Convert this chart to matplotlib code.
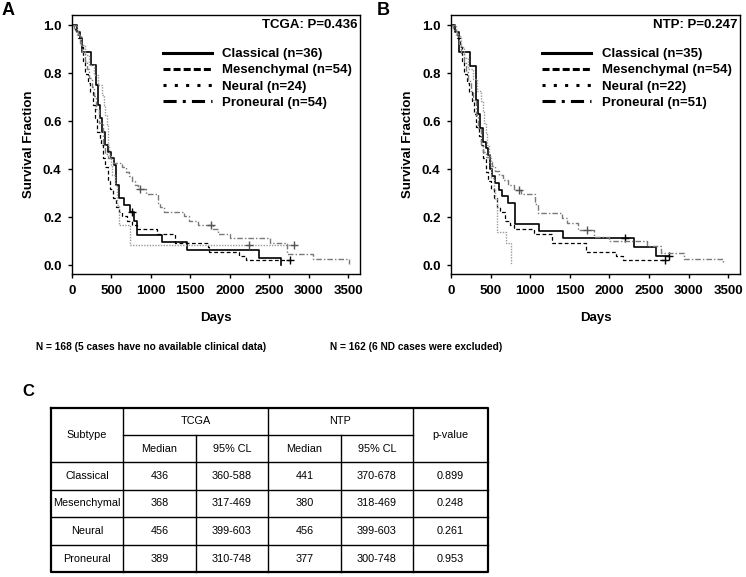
import matplotlib
matplotlib.use("Agg")
import matplotlib.pyplot as plt
from matplotlib.lines import Line2D
from matplotlib import font_manager

# ---- panel A (TCGA) survival steps ----
a_cla_days = [0, 60, 100, 130, 240, 310, 330, 355, 380, 420, 450, 490, 530, 560, 600, 660, 740, 790, 825, 1140, 1455, 2365, 2645]
a_cla_surv = [1.0, 0.972, 0.944, 0.889, 0.833, 0.75, 0.667, 0.611, 0.556, 0.5, 0.472, 0.444, 0.417, 0.333, 0.278, 0.25, 0.222, 0.185, 0.125, 0.094, 0.063, 0.031, 0.0]
a_cla_cens = ([757], [0.222])

a_mes_days = [0, 40, 80, 110, 140, 170, 200, 230, 260, 290, 320, 350, 368, 390, 420, 450, 480, 520, 560, 600, 640, 700, 760, 830, 1075, 1300, 1720, 1740, 2120, 2205, 2760]
a_mes_surv = [1.0, 0.981, 0.944, 0.907, 0.852, 0.796, 0.759, 0.722, 0.667, 0.611, 0.556, 0.519, 0.5, 0.444, 0.407, 0.352, 0.315, 0.278, 0.241, 0.222, 0.204, 0.185, 0.167, 0.148, 0.130, 0.093, 0.074, 0.056, 0.037, 0.019, 0.019]
a_mes_cens = ([2760], [0.019])

a_neu_days = [0, 60, 120, 170, 220, 280, 330, 380, 400, 420, 440, 456, 470, 490, 510, 540, 570, 600, 740, 2815]
a_neu_surv = [1.0, 0.958, 0.917, 0.875, 0.833, 0.792, 0.75, 0.708, 0.667, 0.625, 0.583, 0.5, 0.458, 0.417, 0.375, 0.333, 0.25, 0.167, 0.083, 0.083]
a_neu_cens = ([2245, 2815], [0.083, 0.083])

a_pro_days = [0, 30, 70, 100, 130, 160, 190, 220, 250, 280, 310, 340, 389, 420, 450, 520, 640, 680, 720, 760, 800, 840, 940, 1085, 1120, 1160, 1420, 1480, 1600, 1790, 1850, 2000, 2510, 2730, 3050, 3515]
a_pro_surv = [1.0, 0.981, 0.963, 0.926, 0.889, 0.852, 0.815, 0.778, 0.741, 0.704, 0.648, 0.593, 0.5, 0.463, 0.444, 0.426, 0.407, 0.389, 0.370, 0.352, 0.333, 0.315, 0.296, 0.259, 0.241, 0.222, 0.204, 0.185, 0.167, 0.148, 0.130, 0.111, 0.093, 0.046, 0.023, 0.005]
a_pro_cens = ([862, 1762], [0.315, 0.167])

# ---- panel B (NTP) ----
b_cla_days = [0, 50, 95, 240, 320, 345, 365, 400, 441, 470, 490, 520, 560, 600, 640, 720, 805, 1115, 1415, 2305, 2590, 2750]
b_cla_surv = [1.0, 0.971, 0.886, 0.829, 0.686, 0.629, 0.571, 0.514, 0.486, 0.457, 0.4, 0.371, 0.343, 0.314, 0.286, 0.257, 0.171, 0.143, 0.114, 0.076, 0.038, 0.038]
b_cla_cens = ([2200, 2750], [0.114, 0.038])

b_mes_days = [0, 40, 80, 110, 140, 170, 200, 230, 260, 290, 320, 350, 380, 410, 440, 470, 500, 540, 580, 620, 680, 740, 800, 1050, 1280, 1700, 2090, 2175, 2700]
b_mes_surv = [1.0, 0.981, 0.944, 0.907, 0.852, 0.796, 0.759, 0.722, 0.685, 0.630, 0.574, 0.537, 0.5, 0.444, 0.389, 0.352, 0.315, 0.278, 0.241, 0.222, 0.185, 0.167, 0.148, 0.130, 0.093, 0.056, 0.037, 0.019, 0.019]
b_mes_cens = ([2700], [0.019])

b_neu_days = [0, 60, 120, 170, 220, 280, 330, 380, 400, 420, 440, 456, 480, 510, 540, 560, 580, 690, 760]
b_neu_surv = [1.0, 0.955, 0.909, 0.864, 0.818, 0.773, 0.727, 0.682, 0.636, 0.591, 0.545, 0.5, 0.455, 0.364, 0.318, 0.273, 0.136, 0.091, 0.0]
b_neu_cens = ([], [])

b_pro_days = [0, 30, 70, 100, 130, 160, 190, 220, 250, 280, 310, 340, 377, 410, 440, 480, 520, 560, 600, 660, 720, 800, 880, 1060, 1100, 1400, 1460, 1600, 1800, 2000, 2470, 2650, 2940, 3440]
b_pro_surv = [1.0, 0.980, 0.961, 0.922, 0.882, 0.843, 0.804, 0.765, 0.725, 0.686, 0.627, 0.569, 0.5, 0.471, 0.451, 0.431, 0.412, 0.392, 0.373, 0.353, 0.333, 0.314, 0.294, 0.255, 0.216, 0.196, 0.176, 0.147, 0.118, 0.098, 0.078, 0.049, 0.024, 0.008]
b_pro_cens = ([853, 1720], [0.314, 0.147])

a_labels = ["Classical (n=36)", "Mesenchymal (n=54)", "Neural (n=24)", "Proneural (n=54)"]
b_labels = ["Classical (n=35)", "Mesenchymal (n=54)", "Neural (n=22)", "Proneural (n=51)"]
a_title = "TCGA: P=0.436"
b_title = "NTP: P=0.247"
a_note = "N = 168 (5 cases have no available clinical data)"
b_note = "N = 162 (6 ND cases were excluded)"

# ---- table C ----
subtypes = ["Classical", "Mesenchymal", "Neural", "Proneural"]
tcga_median = ["436", "368", "456", "389"]
tcga_cl = ["360-588", "317-469", "399-603", "310-748"]
ntp_median = ["441", "380", "456", "377"]
ntp_cl = ["370-678", "318-469", "399-603", "300-748"]
p_values = ["0.899", "0.248", "0.261", "0.953"]

names = {f.name for f in font_manager.fontManager.ttflist}
narrow = "Liberation Sans Narrow" in names
note_font = ["Liberation Sans Narrow", "Liberation Sans"]
note_size = 9 if narrow else 7.3
table_size = 9 if narrow else 7.8

plt.rcParams["font.family"] = ["Liberation Sans", "DejaVu Sans"]
plt.rcParams["font.weight"] = "bold"

styles = [
    dict(color="black", lw=1.2, ls="-"),
    dict(color="black", lw=0.9, ls=(0, (3, 2))),
    dict(color="#9a9a9a", lw=1.0, ls=(0, (1, 1))),
    dict(color="#7a7a7a", lw=1.0, ls=(0, (4, 1.5, 1, 1.5))),
]
leg_styles = ["-", (0, (2.3, 1.0)), (0, (1, 2.7)), (0, (4.3, 2, 1, 2))]

fig = plt.figure(figsize=(7.46, 5.77), dpi=100)


def km_panel(ax, curves, labels, title):
    for (d, s, c), st in zip(curves, styles):
        ax.step(d, s, where="post", **st)
        ax.plot(c[0], c[1], ls="none", marker="+", ms=6, mew=1.0,
                color="black" if st["color"] == "black" else "#555555")
    ax.set_xlim(0, 3650)
    ax.set_ylim(-0.0375, 1.0417)
    ax.set_xticks(range(0, 3501, 500))
    ax.set_yticks([0, 0.2, 0.4, 0.6, 0.8, 1.0])
    ax.set_yticklabels(["0.0", "0.2", "0.4", "0.6", "0.8", "1.0"])
    ax.tick_params(direction="out", length=3, width=1.0, labelsize=9.5)
    ax.tick_params(axis="x", pad=5)
    ax.tick_params(axis="y", pad=4.5)
    for sp in ax.spines.values():
        sp.set_linewidth(1.0)
    ax.set_xlabel("Days", fontsize=9.5, fontweight="bold", labelpad=11)
    ax.set_ylabel("Survival Fraction", fontsize=9.5, fontweight="bold", labelpad=6)
    ax.text(0.99, 0.961, title, transform=ax.transAxes, ha="right", va="center", fontsize=9.5, fontweight="bold")
    handles = [Line2D([], [], color="black", lw=2.2, ls=ls) for ls in leg_styles]
    ax.legend(handles, labels, loc="upper left", bbox_to_anchor=(0.316, 0.872), frameon=False,
              borderpad=0, borderaxespad=0, handlelength=3.7, handletextpad=0.8, labelspacing=0.29,
              prop=dict(size=9.5, weight="bold"))


ax_a = fig.add_axes([72 / 746, 1 - 274 / 577, 288 / 746, 259 / 577])
km_panel(ax_a, [(a_cla_days, a_cla_surv, a_cla_cens), (a_mes_days, a_mes_surv, a_mes_cens),
                (a_neu_days, a_neu_surv, a_neu_cens), (a_pro_days, a_pro_surv, a_pro_cens)], a_labels, a_title)

ax_b = fig.add_axes([451 / 746, 1 - 274 / 577, 289 / 746, 259 / 577])
km_panel(ax_b, [(b_cla_days, b_cla_surv, b_cla_cens), (b_mes_days, b_mes_surv, b_mes_cens),
                (b_neu_days, b_neu_surv, b_neu_cens), (b_pro_days, b_pro_surv, b_pro_cens)], b_labels, b_title)

# overlay in pixel coordinates for letters, notes and the table
ov = fig.add_axes([0, 0, 1, 1])
ov.set_xlim(0, 746)
ov.set_ylim(577, 0)
ov.axis("off")
ov.patch.set_visible(False)

ov.text(2, 2, "A", fontsize=13, fontweight="bold", va="top", ha="left")
ov.text(377, 2, "B", fontsize=13, fontweight="bold", va="top", ha="left")
ov.text(22, 384, "C", fontsize=12, fontweight="bold", va="top", ha="left")
ov.text(151, 347, a_note, family=note_font, fontsize=note_size, fontweight="bold", ha="center", va="center")
ov.text(416, 347, b_note, family=note_font, fontsize=note_size, fontweight="bold", ha="center", va="center")

xs = [51, 123, 196, 268, 341, 413, 488]
ys = [408, 435, 462, 490, 517, 545, 572]
thin = 1.0
thick = 1.6
ov.plot([xs[0], xs[-1], xs[-1], xs[0], xs[0]], [ys[0], ys[0], ys[-1], ys[-1], ys[0]], color="black", lw=thick)
ov.plot([xs[1], xs[5]], [ys[1], ys[1]], color="black", lw=thin)
for y in ys[2:-1]:
    ov.plot([xs[0], xs[-1]], [y, y], color="black", lw=thin)
for x in [xs[1], xs[3], xs[5]]:
    ov.plot([x, x], [ys[0], ys[-1]], color="black", lw=thin)
for x in [xs[2], xs[4]]:
    ov.plot([x, x], [ys[1], ys[-1]], color="black", lw=thin)

tk = dict(family=note_font, fontsize=table_size, fontweight="normal", ha="center", va="center")
ov.text((xs[0] + xs[1]) / 2, (ys[0] + ys[2]) / 2, "Subtype", **tk)
ov.text((xs[1] + xs[3]) / 2, (ys[0] + ys[1]) / 2, "TCGA", **tk)
ov.text((xs[3] + xs[5]) / 2, (ys[0] + ys[1]) / 2, "NTP", **tk)
ov.text((xs[5] + xs[6]) / 2, (ys[0] + ys[2]) / 2, "p-value", **tk)
for i, h in enumerate(["Median", "95% CL", "Median", "95% CL"]):
    ov.text((xs[i + 1] + xs[i + 2]) / 2, (ys[1] + ys[2]) / 2, h, **tk)
for r in range(len(subtypes)):
    yc = (ys[r + 2] + ys[r + 3]) / 2
    row = [subtypes[r], tcga_median[r], tcga_cl[r], ntp_median[r], ntp_cl[r], p_values[r]]
    for c, val in enumerate(row):
        ov.text((xs[c] + xs[c + 1]) / 2, yc, val, **tk)

fig.savefig("out.png", dpi=100)
